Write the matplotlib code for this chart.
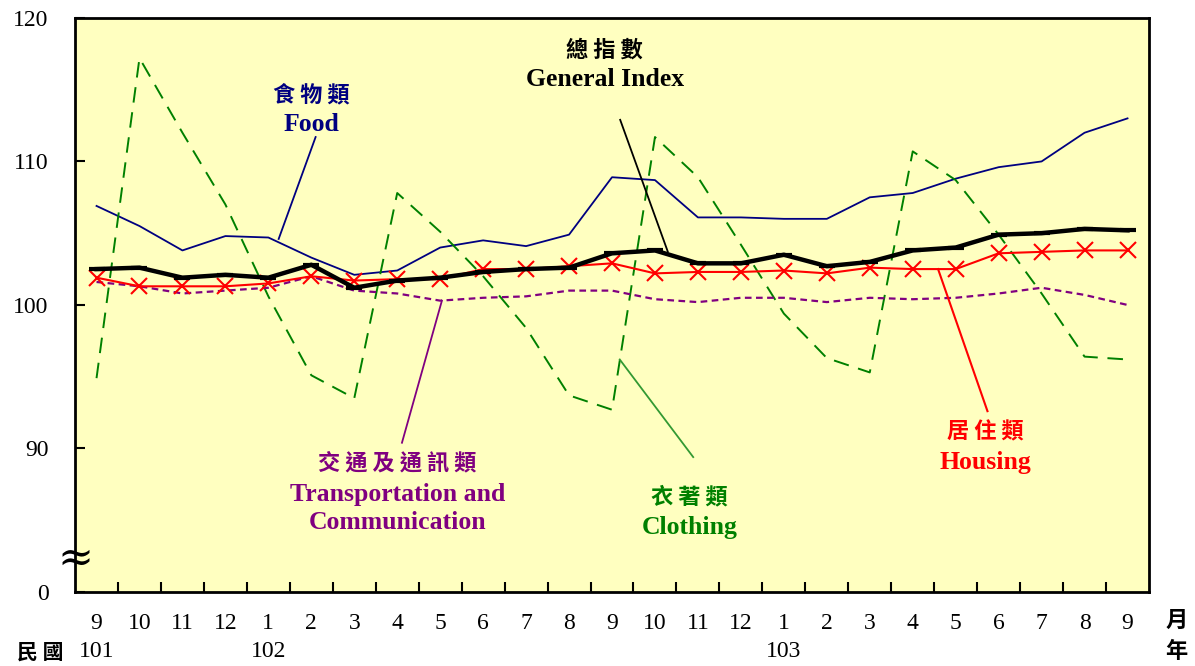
import matplotlib.pyplot as plt
from matplotlib.ticker import FixedLocator

months = ['9', '10', '11', '12', '1', '2', '3', '4', '5', '6', '7', '8', '9',
          '10', '11', '12', '1', '2', '3', '4', '5', '6', '7', '8', '9']
years = {0: '101', 4: '102', 16: '103'}

general = [102.5, 102.6, 101.9, 102.1, 101.9, 102.8, 101.2, 101.7, 101.9, 102.3,
           102.5, 102.6, 103.6, 103.8, 102.9, 102.9, 103.5, 102.7, 103.0, 103.8,
           104.0, 104.9, 105.0, 105.3, 105.2]
food = [106.9, 105.5, 103.8, 104.8, 104.7, 103.3, 102.1, 102.4, 104.0, 104.5,
        104.1, 104.9, 108.9, 108.7, 106.1, 106.1, 106.0, 106.0, 107.5, 107.8,
        108.8, 109.6, 110.0, 112.0, 113.0]
clothing = [94.9, 117.2, 112.0, 107.0, 100.6, 95.1, 93.5, 107.8, 105.1, 102.0,
            98.4, 93.7, 92.7, 111.7, 108.9, 104.2, 99.4, 96.3, 95.3, 110.7,
            108.7, 104.9, 100.8, 96.4, 96.2]
housing = [101.9, 101.3, 101.3, 101.3, 101.5, 102.0, 101.7, 101.8, 101.8, 102.5,
           102.5, 102.7, 102.9, 102.2, 102.3, 102.3, 102.4, 102.2, 102.6, 102.5,
           102.5, 103.6, 103.7, 103.8, 103.8]
transport = [101.6, 101.3, 100.8, 101.0, 101.2, 102.0, 101.0, 100.8, 100.3, 100.5,
             100.6, 101.0, 101.0, 100.4, 100.2, 100.5, 100.5, 100.2, 100.5, 100.4,
             100.5, 100.8, 101.2, 100.7, 100.0]

ytick_pos = [80, 90, 100, 110, 120]
ytick_lab = ['0', '90', '100', '110', '120']

serif = ['Liberation Serif', 'Noto Sans CJK TC', 'DejaVu Sans']
cjk = ['Noto Sans CJK TC', 'DejaVu Sans']
plt.rcParams['font.family'] = serif

fig = plt.figure(figsize=(11.95, 6.66), dpi=100)
ax = fig.add_axes([0.0628, 0.1111, 0.8987, 0.862])
ax.set_facecolor('#FFFFC0')
x = list(range(len(months)))

ax.plot(x, food, color='#000080', lw=1.3, zorder=3)
ax.plot(x, clothing, color='#008000', lw=1.4, dashes=(8, 5), zorder=3)
ax.plot(x, transport, color='#800080', lw=1.6, dashes=(3, 2), zorder=3)
ax.plot(x, housing, color='red', lw=1.5, marker='x', ms=11, mew=1.5, zorder=4)
ax.plot(x, general, color='black', lw=3.2, marker='_', ms=11, mew=3, zorder=5)

ax.set_xlim(-0.5, 24.5)
ax.set_ylim(80, 120)
ax.set_yticks(ytick_pos)
ax.set_yticklabels(ytick_lab, fontsize=17)
ax.set_xticks(x)
ax.set_xticklabels(months, fontsize=17)
ax.xaxis.set_minor_locator(FixedLocator([i + 0.5 for i in range(24)]))
ax.tick_params(axis='x', which='major', length=0, pad=15)
ax.tick_params(axis='x', which='minor', direction='in', length=7, width=1.5)
ax.tick_params(axis='y', direction='in', length=7, width=1.5, pad=19)
for s in ax.spines.values():
    s.set_linewidth(2)

# year row
for i, y in years.items():
    ax.text(i, -0.104, y, transform=ax.get_xaxis_transform(), ha='center',
            va='center', fontsize=17)
ax.text(-0.032, -0.104, '民 國', transform=ax.transAxes, ha='center', va='center',
        fontsize=15, fontweight='bold', family=cjk)
ax.text(1.015, -0.05, '月', transform=ax.transAxes, ha='left', va='center',
        fontsize=16, fontweight='bold', family=cjk)
ax.text(1.015, -0.104, '年', transform=ax.transAxes, ha='left', va='center',
        fontsize=16, fontweight='bold', family=cjk)

# axis break
ax.text(0.0, 82.3, '≈', transform=ax.get_yaxis_transform(), ha='center',
        va='center', fontsize=31, family=['DejaVu Serif'])

# labels with leader lines
def label(xc, y_cn, cn, color, en_lines):
    ax.text(xc, y_cn, ' '.join(cn), ha='center', va='center', fontsize=16,
            fontweight='bold', color=color, family=cjk)
    for y_en, en in en_lines:
        ax.text(xc, y_en, en, ha='center', va='center', fontsize=18.5,
                fontweight='bold', color=color)

label(5.0, 114.63, '食物類', '#000080', [(112.54, 'Food')])
label(11.83, 117.77, '總指數', 'black', [(115.68, 'General Index')])
label(7.0, 88.99, '交通及通訊類', '#800080',
      [(86.76, 'Transportation and'), (84.81, 'Communication')])
label(13.8, 86.62, '衣著類', '#008000', [(84.46, 'Clothing')])
label(20.7, 91.15, '居住類', 'red', [(88.99, 'Housing')])

ax.plot([4.24, 5.1], [104.6, 111.7], color='#000080', lw=1.3, zorder=3)
ax.plot([12.19, 13.3], [112.9, 103.7], color='black', lw=1.3, zorder=3)
ax.plot([8.04, 7.11], [100.3, 90.4], color='#800080', lw=1.3, zorder=3)
ax.plot([12.18, 13.89], [96.2, 89.4], color='#339933', lw=1.3, zorder=3)
ax.plot([19.59, 20.74], [102.5, 92.6], color='red', lw=1.5, zorder=3)

fig.savefig('out.png', dpi=100)
